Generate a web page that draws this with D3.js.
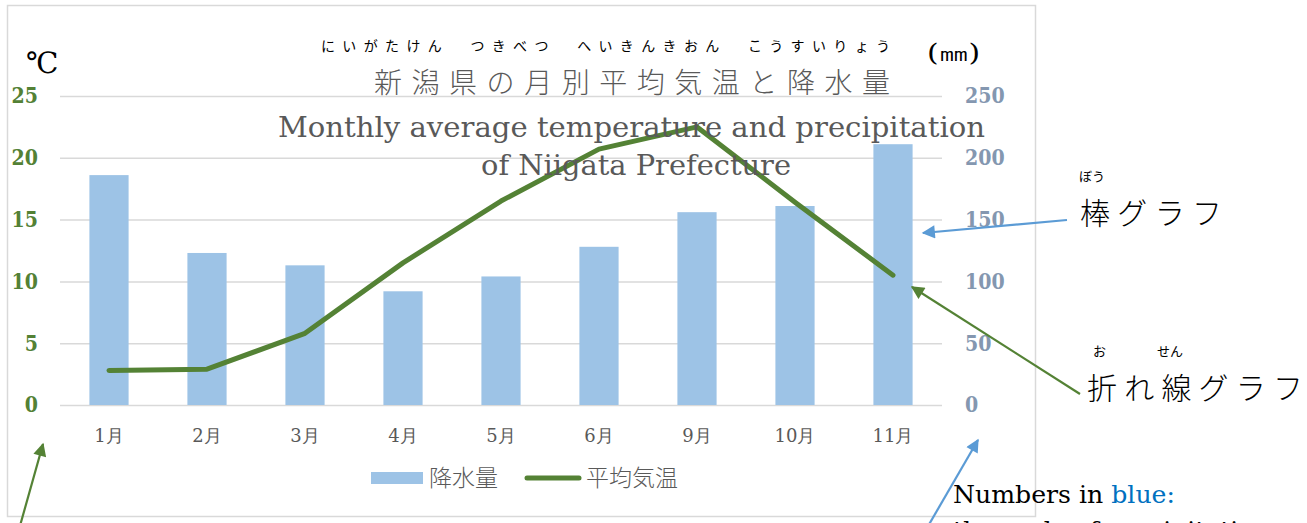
<!DOCTYPE html>
<html>
<head>
<meta charset="utf-8">
<script src="https://cdn.jsdelivr.net/npm/d3@7/dist/d3.min.js"></script>
<style>
  html, body { margin: 0; padding: 0; background: #fff; }
  svg { display: block; }
</style>
</head>
<body>
<svg id="chart" width="1307" height="523"></svg>
<script>
// Months shown on the category axis
const months = ["1月", "2月", "3月", "4月", "5月", "6月", "9月", "10月", "11月"];
// Precipitation (mm), drawn as bars on the right axis
const precipitation = [186, 123, 113, 92, 104, 128, 156, 161, 211];
// Average temperature (°C), drawn as a line on the left axis
const temperature = [2.8, 2.9, 5.8, 11.5, 16.5, 20.7, 22.5, 16.4, 10.5];
// Tick values for both vertical axes
const tempTicks = [0, 5, 10, 15, 20, 25];
const precipTicks = [0, 50, 100, 150, 200, 250];

const svg = d3.select("#chart");
const serif = "'DejaVu Serif', 'Liberation Serif', serif";
const cjk = "'Noto Sans CJK JP', 'Noto Sans', sans-serif";

const plot = { left: 60, right: 942, top: 96, bottom: 405 };

// Chart area frame
svg.append("rect")
  .attr("x", 7.5).attr("y", 5.5).attr("width", 1028).attr("height", 511)
  .attr("fill", "#fff").attr("stroke", "#d9d9d9").attr("stroke-width", 1.5);

const x = d3.scaleBand().domain(months).range([plot.left, plot.right])
  .paddingInner(0.6).paddingOuter(0.3);
const yT = d3.scaleLinear().domain([0, 25]).range([plot.bottom, plot.top]);
const yP = d3.scaleLinear().domain([0, 250]).range([plot.bottom, plot.top]);

// Horizontal gridlines
svg.append("g").attr("transform", `translate(${plot.left},0)`)
  .call(d3.axisLeft(yT).tickValues(tempTicks).tickSize(-(plot.right - plot.left)).tickFormat(""))
  .call(g => g.select(".domain").remove())
  .call(g => g.selectAll("line").attr("stroke", "#d9d9d9").attr("stroke-width", 1.5));

// Precipitation bars
svg.append("g").selectAll("rect").data(precipitation).join("rect")
  .attr("x", (d, i) => x(months[i]))
  .attr("y", d => yP(d))
  .attr("width", x.bandwidth())
  .attr("height", d => yP(0) - yP(d))
  .attr("fill", "#9dc3e6");

// Tick label styling shared by both value axes (bold, slightly tall digits)
function styleValueLabels(g, color) {
  g.select(".domain").remove();
  g.selectAll("text")
    .attr("fill", color).attr("font-family", serif).attr("font-weight", "bold")
    .attr("font-size", 19).attr("dy", "0.3em")
    .attr("transform", "scale(1,1.22)");
}

// Left axis (temperature)
svg.append("g").attr("transform", `translate(${plot.left},0)`)
  .call(d3.axisLeft(yT).tickValues(tempTicks).tickSize(0).tickPadding(22))
  .call(g => styleValueLabels(g, "#538135"));

// Right axis (precipitation)
svg.append("g").attr("transform", `translate(${plot.right},0)`)
  .call(d3.axisRight(yP).tickValues(precipTicks).tickSize(0).tickPadding(23))
  .call(g => styleValueLabels(g, "#8497b0"));

// Category axis
svg.append("g").attr("transform", `translate(0,${plot.bottom})`)
  .call(d3.axisBottom(x).tickSize(0).tickPadding(24))
  .call(g => g.select(".domain").remove())
  .call(g => g.selectAll("text")
    .attr("fill", "#595959").attr("font-family", serif).attr("font-size", 18));

// Temperature line
const line = d3.line().x((d, i) => x(months[i]) + x.bandwidth() / 2).y(d => yT(d));
svg.append("path").datum(temperature)
  .attr("d", line).attr("fill", "none")
  .attr("stroke", "#548235").attr("stroke-width", 5)
  .attr("stroke-linecap", "round").attr("stroke-linejoin", "round");

// Axis unit labels
svg.append("text").attr("x", 26).attr("y", 73).attr("font-family", serif)
  .attr("font-size", 29).attr("fill", "#000").text("℃");
svg.append("text").attr("x", 927).attr("y", 61).attr("font-family", serif)
  .attr("font-size", 24).attr("fill", "#000")
  .attr("textLength", 53).attr("lengthAdjust", "spacingAndGlyphs").text("(㎜)");

// Title with reading aid
svg.append("text").attr("x", 321).attr("y", 51).attr("font-family", cjk)
  .attr("font-size", 14).attr("fill", "#000").attr("textLength", 569)
  .attr("lengthAdjust", "spacing")
  .text("にいがたけん　つきべつ　へいきんきおん　こうすいりょう");
svg.append("text").attr("x", 374).attr("y", 93).attr("font-family", cjk)
  .attr("font-size", 28).attr("font-weight", 300).attr("fill", "#595959")
  .attr("textLength", 516).attr("lengthAdjust", "spacing")
  .text("新潟県の月別平均気温と降水量");
svg.append("text").attr("x", 278).attr("y", 137).attr("font-family", serif)
  .attr("font-size", 28).attr("fill", "#595959")
  .attr("textLength", 707).attr("lengthAdjust", "spacingAndGlyphs")
  .text("Monthly average temperature and precipitation");
svg.append("text").attr("x", 481).attr("y", 175).attr("font-family", serif)
  .attr("font-size", 28).attr("fill", "#595959")
  .attr("textLength", 310).attr("lengthAdjust", "spacingAndGlyphs")
  .text("of Niigata Prefecture");

// Legend
const legend = svg.append("g");
legend.append("rect").attr("x", 371).attr("y", 472).attr("width", 52).attr("height", 12).attr("fill", "#9dc3e6");
legend.append("text").attr("x", 429).attr("y", 486).attr("font-family", cjk).attr("font-size", 23)
  .attr("font-weight", 300).attr("fill", "#595959").text("降水量");
legend.append("line").attr("x1", 527).attr("x2", 579).attr("y1", 478).attr("y2", 478)
  .attr("stroke", "#548235").attr("stroke-width", 5).attr("stroke-linecap", "round");
legend.append("text").attr("x", 586).attr("y", 486).attr("font-family", cjk).attr("font-size", 23)
  .attr("font-weight", 300).attr("fill", "#595959").text("平均気温");

// Arrow markers
const defs = svg.append("defs");
[["blueHead", "#5b9bd5"], ["greenHead", "#548235"]].forEach(([id, c]) => {
  defs.append("marker").attr("id", id).attr("viewBox", "0 0 10 10")
    .attr("refX", 9).attr("refY", 5).attr("markerWidth", 7).attr("markerHeight", 6)
    .attr("markerUnits", "strokeWidth").attr("orient", "auto")
    .append("path").attr("d", "M0,0 L10,5 L0,10 Z").attr("fill", c);
});

const arrows = [
  { x1: 1067, y1: 220, x2: 923, y2: 233, c: "#5b9bd5", m: "blueHead" },
  { x1: 1080, y1: 394, x2: 912, y2: 287, c: "#548235", m: "greenHead" },
  { x1: 920, y1: 540, x2: 978, y2: 440, c: "#5b9bd5", m: "blueHead" },
  { x1: 16, y1: 540, x2: 43, y2: 444, c: "#548235", m: "greenHead" }
];
svg.append("g").selectAll("line").data(arrows).join("line")
  .attr("x1", d => d.x1).attr("y1", d => d.y1).attr("x2", d => d.x2).attr("y2", d => d.y2)
  .attr("stroke", d => d.c).attr("stroke-width", 2.2)
  .attr("marker-end", d => `url(#${d.m})`);

// Annotations with reading aids
svg.append("text").attr("x", 1079).attr("y", 181).attr("font-family", cjk)
  .attr("font-size", 13).attr("fill", "#000").text("ぼう");
svg.append("text").attr("x", 1080).attr("y", 224).attr("font-family", cjk)
  .attr("font-size", 30).attr("font-weight", 300).attr("fill", "#000")
  .attr("textLength", 142).attr("lengthAdjust", "spacing").text("棒グラフ");

svg.append("text").attr("x", 1093).attr("y", 356).attr("font-family", cjk)
  .attr("font-size", 13).attr("fill", "#000").text("お");
svg.append("text").attr("x", 1157).attr("y", 356).attr("font-family", cjk)
  .attr("font-size", 13).attr("fill", "#000").text("せん");
svg.append("text").attr("x", 1087).attr("y", 399).attr("font-family", cjk)
  .attr("font-size", 30).attr("font-weight", 300).attr("fill", "#000")
  .attr("textLength", 216).attr("lengthAdjust", "spacing").text("折れ線グラフ");

const note = svg.append("text").attr("x", 953).attr("y", 503).attr("font-family", serif)
  .attr("font-size", 25).attr("fill", "#000")
  .attr("textLength", 222).attr("lengthAdjust", "spacingAndGlyphs");
note.append("tspan").text("Numbers in ");
note.append("tspan").attr("fill", "#0070c0").text("blue:");
svg.append("text").attr("x", 953).attr("y", 539).attr("font-family", serif)
  .attr("font-size", 25).attr("fill", "#000").text("the scale of precipitation");
</script>
</body>
</html>
